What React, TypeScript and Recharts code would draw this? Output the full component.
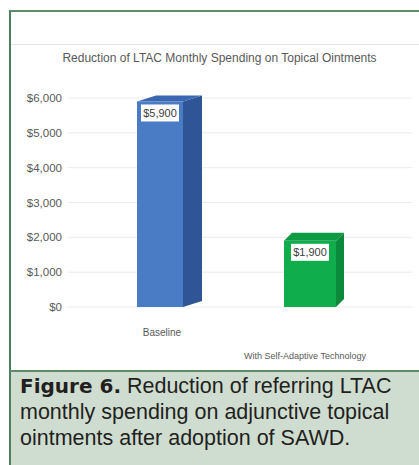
import React from "react";
import { BarChart, Bar, XAxis, YAxis, CartesianGrid, LabelList } from "recharts";

const categories = ["Baseline", "With Self-Adaptive Technology"];
const spending = [5900, 1900];
const yTicks = [0, 1000, 2000, 3000, 4000, 5000, 6000];
const chartTitle = "Reduction of LTAC Monthly Spending on Topical Ointments";
const captionBold = "Figure 6.";
const captionLines = [
  " Reduction of referring LTAC",
  "monthly spending on adjunctive topical",
  "ointments after adoption of SAWD.",
];

const data = categories.map((c, i) => ({ name: c, value: spending[i] }));

const FACE = [
  { front: "#4a7cc6", side: "#2f5597", top: "#3b67b0", dx: 19, dy: 6, widen: 0 },
  { front: "#10ad4c", side: "#0b8a3b", top: "#0c9a43", dx: 8, dy: 8, widen: 6 },
];

const fmt = (v: number) => "$" + v.toLocaleString("en-US");

const Bar3D = (props: any) => {
  const { y, height, index } = props;
  const f = FACE[index] || FACE[0];
  const x = props.x - f.widen / 2;
  const width = props.width + f.widen;
  const { dx, dy } = f;
  return (
    <g>
      <polygon
        points={`${x + width},${y} ${x + width + dx},${y - dy} ${x + width + dx},${y + height - dy} ${x + width},${y + height}`}
        fill={f.side}
      />
      <polygon
        points={`${x},${y} ${x + dx},${y - dy} ${x + width + dx},${y - dy} ${x + width},${y}`}
        fill={f.top}
      />
      <rect x={x} y={y} width={width} height={height} fill={f.front} />
    </g>
  );
};

const ValueLabel = (props: any) => {
  const { x, y, width, value } = props;
  const cx = x + width / 2;
  return (
    <g>
      <rect x={cx - 19} y={y + 3} width={38} height={17} fill="#ffffff" />
      <text
        x={cx}
        y={y + 15.5}
        textAnchor="middle"
        fontSize={11}
        fontFamily="Liberation Sans, Arial, sans-serif"
        fill="#404040"
      >
        {fmt(value)}
      </text>
    </g>
  );
};

const TICK_DY = [21, 44];
const TICK_DX = [2, -5];
const TICK_FS = [10, 9];

const CatTick = (props: any) => {
  const { x, y, payload, index } = props;
  return (
    <text
      x={x + TICK_DX[index]}
      y={y + TICK_DY[index]}
      textAnchor="middle"
      fontSize={TICK_FS[index]}
      fontFamily="Liberation Sans, Arial, sans-serif"
      fill="#595959"
    >
      {payload.value}
    </text>
  );
};

export default function App() {
  return (
    <div
      style={{
        position: "absolute",
        left: 0,
        top: 0,
        width: 419,
        height: 465,
        background: "#ffffff",
        overflow: "hidden",
      }}
    >
      <div style={{ position: "absolute", left: 0, top: 0 }}>
        <BarChart
          width={419}
          height={370}
          data={data}
          margin={{ top: 98, right: 7, bottom: 33, left: 0 }}
        >
          <CartesianGrid vertical={false} stroke="#ececec" />
          <XAxis
            dataKey="name"
            axisLine={false}
            tickLine={false}
            height={30}
            padding={{ left: 17, right: 27 }}
            tick={<CatTick />}
            interval={0}
          />
          <YAxis
            domain={[0, 6000]}
            ticks={yTicks}
            width={68}
            axisLine={false}
            tickLine={false}
            tickSize={0}
            tickMargin={6}
            tickFormatter={fmt}
            tick={{ fontSize: 11.5, fill: "#595959", fontFamily: "Liberation Sans, Arial, sans-serif" }}
          />
          <Bar dataKey="value" barSize={46} shape={<Bar3D />} isAnimationActive={false}>
            <LabelList dataKey="value" content={<ValueLabel />} />
          </Bar>
        </BarChart>
      </div>
      <div
        style={{
          position: "absolute",
          left: 10,
          top: 51,
          width: 419,
          textAlign: "center",
          fontFamily: "Liberation Sans, Arial, sans-serif",
          fontSize: 12,
          color: "#595959",
          whiteSpace: "nowrap",
        }}
      >
        {chartTitle}
      </div>
      <div
        style={{
          position: "absolute",
          left: 10,
          top: 44,
          width: 420,
          height: 1,
          background: "#e6e6e6",
        }}
      />
      <div
        style={{
          position: "absolute",
          left: 9,
          top: 10,
          width: 420,
          height: 500,
          borderLeft: "2px solid #4f7d5d",
          borderTop: "2px solid #5e8b6a",
          boxSizing: "border-box",
        }}
      />
      <div
        style={{
          position: "absolute",
          left: 9,
          top: 370,
          width: 420,
          height: 100,
          background: "#cfddd1",
          borderTop: "2px solid #5e8b6a",
          borderLeft: "2px solid #4f7d5d",
          boxSizing: "border-box",
        }}
      />
      <div
        style={{
          position: "absolute",
          left: 20,
          top: 373,
          fontFamily: "Liberation Sans, Arial, sans-serif",
          fontSize: 21.5,
          lineHeight: "26px",
          color: "#231f20",
          whiteSpace: "nowrap",
        }}
      >
        <span style={{ fontFamily: "DejaVu Sans, sans-serif", fontWeight: 700, fontSize: 20 }}>{captionBold}</span>
        {captionLines[0]}
        <br />
        {captionLines[1]}
        <br />
        {captionLines[2]}
      </div>
    </div>
  );
}
